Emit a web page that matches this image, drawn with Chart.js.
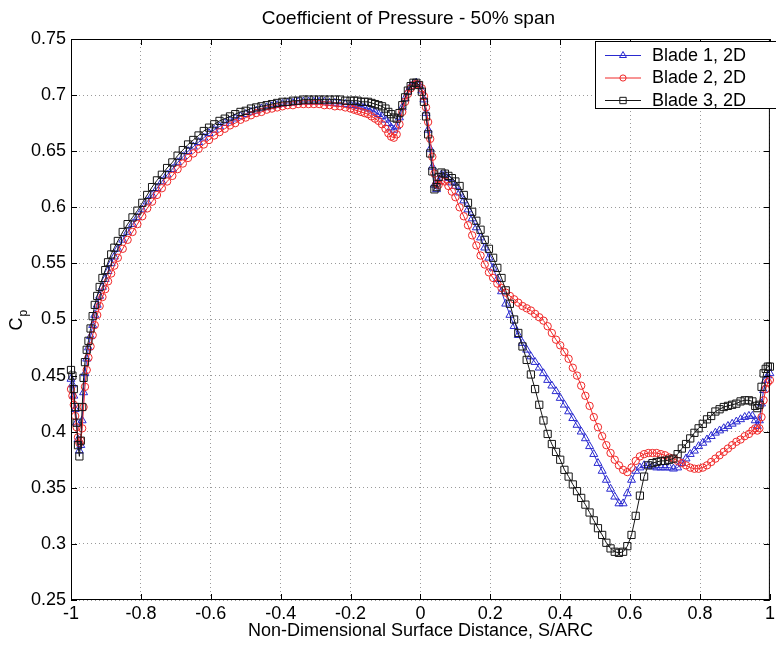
<!DOCTYPE html>
<html>
<head>
<meta charset="utf-8">
<title>Coefficient of Pressure - 50% span</title>
<script src="https://cdn.jsdelivr.net/npm/chart.js@4.4.1/dist/chart.umd.min.js"></script>
<style>
  html, body { margin: 0; padding: 0; background: #fff; }
</style>
</head>
<body>
<canvas id="cpChart" width="776" height="649"></canvas>
<script>
// surface stations, S/ARC (shared by all three blades)
const surfaceDist = [
  -1, -0.996, -0.992, -0.988, -0.984, -0.98, -0.976, -0.972, -0.968, -0.964,
  -0.96, -0.955, -0.95, -0.944, -0.938, -0.932, -0.925, -0.918, -0.91, -0.902,
  -0.894, -0.885, -0.876, -0.866, -0.852, -0.838, -0.824, -0.81, -0.796, -0.782,
  -0.768, -0.754, -0.74, -0.725, -0.71, -0.695, -0.68, -0.665, -0.65, -0.635,
  -0.62, -0.605, -0.59, -0.575, -0.56, -0.545, -0.53, -0.515, -0.5, -0.485,
  -0.47, -0.455, -0.44, -0.425, -0.41, -0.395, -0.38, -0.365, -0.35, -0.335,
  -0.32, -0.305, -0.29, -0.275, -0.26, -0.245, -0.23, -0.215, -0.2, -0.19,
  -0.18, -0.17, -0.16, -0.15, -0.14, -0.13, -0.12, -0.11, -0.1, -0.092,
  -0.084, -0.076, -0.068, -0.06, -0.052, -0.044, -0.036, -0.028, -0.02, -0.012,
  -0.004, 0.004, 0.01, 0.016, 0.022, 0.028, 0.034, 0.04, 0.046, 0.052,
  0.06, 0.07, 0.08, 0.09, 0.1, 0.112, 0.124, 0.136, 0.148, 0.16,
  0.172, 0.184, 0.196, 0.208, 0.22, 0.232, 0.244, 0.256, 0.268, 0.28,
  0.292, 0.304, 0.316, 0.328, 0.34, 0.352, 0.364, 0.376, 0.388, 0.4,
  0.412, 0.424, 0.436, 0.448, 0.46, 0.472, 0.484, 0.496, 0.508, 0.52,
  0.532, 0.544, 0.556, 0.568, 0.58, 0.592, 0.604, 0.616, 0.628, 0.64,
  0.652, 0.664, 0.676, 0.688, 0.7, 0.712, 0.724, 0.736, 0.748, 0.76,
  0.772, 0.784, 0.796, 0.808, 0.82, 0.832, 0.844, 0.856, 0.868, 0.88,
  0.892, 0.904, 0.916, 0.928, 0.94, 0.95, 0.958, 0.964, 0.97, 0.976,
  0.982, 0.988, 0.994, 1
];

const blade1Cp = [
  0.447, 0.442, 0.432, 0.420, 0.408, 0.393, 0.383, 0.388, 0.410, 0.435,
  0.452, 0.465, 0.475, 0.485, 0.495, 0.504, 0.513, 0.521, 0.529, 0.536,
  0.543, 0.550, 0.556, 0.563, 0.571, 0.578, 0.585, 0.591, 0.598, 0.605,
  0.611, 0.617, 0.623, 0.629, 0.634, 0.640, 0.645, 0.650, 0.654, 0.658,
  0.662, 0.666, 0.669, 0.672, 0.675, 0.677, 0.679, 0.681, 0.683, 0.685,
  0.686, 0.688, 0.689, 0.690, 0.691, 0.692, 0.693, 0.693, 0.694, 0.694,
  0.694, 0.694, 0.694, 0.694, 0.693, 0.693, 0.692, 0.692, 0.691, 0.691,
  0.690, 0.690, 0.689, 0.688, 0.687, 0.685, 0.683, 0.681, 0.678, 0.675,
  0.671, 0.669, 0.672, 0.680, 0.689, 0.697, 0.703, 0.708, 0.710, 0.711,
  0.709, 0.704, 0.696, 0.684, 0.669, 0.652, 0.636, 0.620, 0.616, 0.623,
  0.629, 0.629, 0.626, 0.622, 0.619, 0.613, 0.606, 0.598, 0.590, 0.582,
  0.573, 0.564, 0.555, 0.546, 0.536, 0.525, 0.514, 0.504, 0.494, 0.486,
  0.479, 0.473, 0.467, 0.462, 0.457, 0.452, 0.446, 0.441, 0.436, 0.430,
  0.424, 0.418, 0.412, 0.406, 0.400, 0.394, 0.387, 0.380, 0.372, 0.365,
  0.357, 0.349, 0.342, 0.336, 0.336, 0.345, 0.357, 0.365, 0.368, 0.370,
  0.370, 0.369, 0.368, 0.368, 0.368, 0.368, 0.367, 0.368, 0.372, 0.376,
  0.380, 0.383, 0.387, 0.390, 0.393, 0.396, 0.399, 0.401, 0.403, 0.405,
  0.407, 0.409, 0.411, 0.413, 0.414, 0.414, 0.410, 0.405, 0.410, 0.425,
  0.437, 0.446, 0.450, 0.452
];

const blade2Cp = [
  0.438, 0.432, 0.424, 0.414, 0.404, 0.395, 0.390, 0.392, 0.403, 0.422,
  0.440, 0.455, 0.466, 0.476, 0.486, 0.495, 0.504, 0.512, 0.520, 0.527,
  0.534, 0.541, 0.548, 0.555, 0.563, 0.571, 0.578, 0.585, 0.592, 0.599,
  0.605, 0.611, 0.617, 0.623, 0.628, 0.634, 0.639, 0.644, 0.648, 0.652,
  0.656, 0.660, 0.664, 0.667, 0.670, 0.673, 0.675, 0.678, 0.680, 0.682,
  0.684, 0.685, 0.687, 0.688, 0.689, 0.690, 0.691, 0.691, 0.692, 0.692,
  0.692, 0.692, 0.692, 0.691, 0.691, 0.690, 0.690, 0.689, 0.688, 0.687,
  0.686, 0.685, 0.684, 0.683, 0.681, 0.679, 0.677, 0.674, 0.670, 0.666,
  0.663, 0.662, 0.665, 0.674, 0.685, 0.694, 0.701, 0.706, 0.709, 0.710,
  0.709, 0.706, 0.699, 0.689, 0.676, 0.661, 0.645, 0.630, 0.621, 0.620,
  0.624, 0.623, 0.619, 0.614, 0.609, 0.600, 0.592, 0.584, 0.575, 0.566,
  0.557, 0.549, 0.542, 0.537, 0.532, 0.528, 0.524, 0.521, 0.518, 0.515,
  0.512, 0.510, 0.508, 0.505, 0.502, 0.499, 0.494, 0.488, 0.482, 0.477,
  0.471, 0.465, 0.457, 0.450, 0.441, 0.432, 0.423, 0.413, 0.404, 0.396,
  0.388, 0.381, 0.375, 0.370, 0.366, 0.364, 0.368, 0.374, 0.378, 0.380,
  0.381, 0.381, 0.381, 0.380, 0.379, 0.377, 0.376, 0.374, 0.372, 0.370,
  0.368, 0.367, 0.367, 0.368, 0.370, 0.373, 0.376, 0.379, 0.382, 0.385,
  0.388, 0.391, 0.393, 0.396, 0.398, 0.401, 0.403, 0.401, 0.403, 0.413,
  0.428, 0.438, 0.444, 0.446
];

const blade3Cp = [
  0.455, 0.450, 0.438, 0.422, 0.408, 0.388, 0.378, 0.392, 0.422, 0.448,
  0.462, 0.473, 0.481, 0.492, 0.503, 0.513, 0.521, 0.529, 0.537, 0.544,
  0.551, 0.558, 0.564, 0.570, 0.578, 0.585, 0.591, 0.597, 0.604, 0.611,
  0.618, 0.624, 0.629, 0.635, 0.640, 0.646, 0.651, 0.656, 0.660, 0.664,
  0.668, 0.671, 0.674, 0.677, 0.679, 0.681, 0.683, 0.685, 0.686, 0.688,
  0.689, 0.690, 0.691, 0.692, 0.693, 0.694, 0.694, 0.695, 0.695, 0.696,
  0.696, 0.696, 0.696, 0.696, 0.696, 0.696, 0.696, 0.695, 0.695, 0.695,
  0.695, 0.694, 0.694, 0.694, 0.693, 0.692, 0.691, 0.690, 0.688, 0.685,
  0.683, 0.680, 0.679, 0.684, 0.691, 0.698, 0.704, 0.708, 0.711, 0.711,
  0.709, 0.703, 0.694, 0.681, 0.665, 0.648, 0.632, 0.616, 0.618, 0.627,
  0.631, 0.630, 0.628, 0.626, 0.623, 0.619, 0.611, 0.604, 0.596, 0.588,
  0.580, 0.571, 0.563, 0.555, 0.546, 0.537, 0.526, 0.514, 0.500, 0.488,
  0.476, 0.464, 0.451, 0.438, 0.424, 0.410, 0.398, 0.389, 0.382, 0.375,
  0.366, 0.360, 0.353, 0.347, 0.341, 0.335, 0.328, 0.321, 0.314, 0.308,
  0.301, 0.296, 0.293, 0.292, 0.293, 0.298, 0.308, 0.325, 0.343, 0.360,
  0.370, 0.372, 0.373, 0.374, 0.374, 0.375, 0.376, 0.380, 0.385, 0.389,
  0.394, 0.399, 0.403, 0.407, 0.411, 0.414, 0.418, 0.420, 0.422, 0.423,
  0.424, 0.425, 0.427, 0.428, 0.428, 0.427, 0.423, 0.421, 0.424, 0.440,
  0.452, 0.456, 0.458, 0.458
];

const seriesNames = ["Blade 1, 2D", "Blade 2, 2D", "Blade 3, 2D"];
const xTickValues = [-1, -0.8, -0.6, -0.4, -0.2, 0, 0.2, 0.4, 0.6, 0.8, 1];
const yTickValues = [0.25, 0.3, 0.35, 0.4, 0.45, 0.5, 0.55, 0.6, 0.65, 0.7, 0.75];

const FONT = "'Liberation Sans', Arial, Helvetica, sans-serif";
const BLUE = "#2a2ad0";
const RED = "#f02828";
const BLACK = "#161616";

const styles = [
  { color: BLUE, pointStyle: "triangle", radius: 4.6 },
  { color: RED, pointStyle: "circle", radius: 3.7 },
  { color: BLACK, pointStyle: "rect", radius: 5.1 },
];

const toPoints = (ys) => surfaceDist.map((s, i) => ({ x: s, y: ys[i] }));

function makeDataset(idx, ys, order) {
  const st = styles[idx];
  return {
    label: seriesNames[idx],
    data: toPoints(ys),
    showLine: true,
    borderColor: st.color,
    borderWidth: 1,
    pointStyle: st.pointStyle,
    pointRadius: st.radius,
    pointBorderColor: st.color,
    pointBackgroundColor: "rgba(0,0,0,0)",
    pointBorderWidth: 1,
    order: order,
    clip: false,
  };
}

// legend sample: short line with the marker in the middle
function drawMarker(ctx, st, x, y) {
  ctx.save();
  ctx.strokeStyle = st.color;
  ctx.fillStyle = "rgba(0,0,0,0)";
  ctx.lineWidth = 1;
  Chart.helpers.drawPoint(ctx, { pointStyle: st.pointStyle, radius: st.radius - 0.6, rotation: 0, borderWidth: 1 }, x, y);
  ctx.restore();
}

// MATLAB-style box, inward ticks, title, C_p label and legend
const figureFrame = {
  id: "figureFrame",
  afterDraw(c) {
    const { ctx, chartArea: a, scales } = c;
    ctx.save();
    ctx.strokeStyle = "#000";
    ctx.lineWidth = 1;
    ctx.strokeRect(a.left + 0.5, a.top + 0.5, a.right - a.left - 1, a.bottom - a.top - 1);

    const tl = 6;
    ctx.beginPath();
    xTickValues.forEach((v) => {
      const px = Math.round(scales.x.getPixelForValue(v)) + 0.5;
      ctx.moveTo(px, a.bottom); ctx.lineTo(px, a.bottom - tl);
      ctx.moveTo(px, a.top); ctx.lineTo(px, a.top + tl);
    });
    yTickValues.forEach((v) => {
      const py = Math.round(scales.y.getPixelForValue(v)) + 0.5;
      ctx.moveTo(a.left, py); ctx.lineTo(a.left + tl, py);
      ctx.moveTo(a.right, py); ctx.lineTo(a.right - tl, py);
    });
    ctx.stroke();

    // title
    ctx.fillStyle = "#000";
    ctx.font = "19px " + FONT;
    ctx.textAlign = "center";
    ctx.textBaseline = "middle";
    ctx.fillText("Coefficient of Pressure - 50% span", (a.left + a.right) / 2 - 12, 19);

    // y label: C with subscript p
    ctx.save();
    ctx.translate(17, (a.top + a.bottom) / 2 + 1);
    ctx.rotate(-Math.PI / 2);
    ctx.font = "18px " + FONT;
    const wC = ctx.measureText("C").width;
    ctx.textAlign = "left";
    ctx.fillText("C", -(wC + 7) / 2, 0);
    ctx.font = "12px " + FONT;
    ctx.fillText("p", -(wC + 7) / 2 + wC + 1, 7);
    ctx.restore();

    // legend
    const box = { left: 595.5, top: 41.5, right: 790, bottom: 108.5 };
    ctx.fillStyle = "#fff";
    ctx.fillRect(box.left, box.top, box.right - box.left, box.bottom - box.top);
    ctx.strokeStyle = "#000";
    ctx.strokeRect(box.left, box.top, box.right - box.left, box.bottom - box.top);
    const rows = [55, 77.5, 100];
    seriesNames.forEach((name, i) => {
      const st = styles[i];
      const y = rows[i];
      ctx.strokeStyle = st.color;
      ctx.lineWidth = 1;
      ctx.beginPath();
      ctx.moveTo(605, y + 0.5);
      ctx.lineTo(641, y + 0.5);
      ctx.stroke();
      drawMarker(ctx, st, 623, y + 0.5);
      ctx.fillStyle = "#000";
      ctx.font = "18px " + FONT;
      ctx.textAlign = "left";
      ctx.textBaseline = "middle";
      ctx.fillText(name, 652, y + 1);
    });
    ctx.restore();
  },
};

const tickFont = { family: FONT, size: 18 };
const gridStyle = { color: "#9a9a9a", lineWidth: 1, drawTicks: false };

new Chart(document.getElementById("cpChart"), {
  type: "scatter",
  data: {
    datasets: [
      makeDataset(0, blade1Cp, 2),
      makeDataset(1, blade2Cp, 1),
      makeDataset(2, blade3Cp, 0),
    ],
  },
  options: {
    responsive: false,
    animation: false,
    devicePixelRatio: 1,
    events: [],
    layout: { padding: { top: 39, right: 2, bottom: 3, left: 0 } },
    plugins: {
      legend: { display: false },
      tooltip: { enabled: false },
      title: { display: false },
    },
    scales: {
      x: {
        type: "linear",
        min: -1,
        max: 1,
        afterBuildTicks: (s) => { s.ticks = xTickValues.map((v) => ({ value: v })); },
        afterFit: (s) => { s.height = 46; s.paddingLeft = 0; s.paddingRight = 0; },
        ticks: {
          autoSkip: false,
          maxRotation: 0,
          padding: 3,
          color: "#000",
          font: tickFont,
          callback: (v) => String(v),
        },
        grid: gridStyle,
        border: { display: false, dash: [1, 3] },
        title: {
          display: true,
          text: "Non-Dimensional Surface Distance, S/ARC",
          color: "#000",
          font: tickFont,
          padding: { top: 0, bottom: 4 },
        },
      },
      y: {
        type: "linear",
        min: 0.25,
        max: 0.75,
        afterBuildTicks: (s) => { s.ticks = yTickValues.map((v) => ({ value: v })); },
        afterFit: (s) => { s.width = 71; s.paddingTop = 0; s.paddingBottom = 0; },
        ticks: {
          autoSkip: false,
          padding: 5,
          color: "#000",
          font: tickFont,
          callback: (v) => String(+v.toFixed(2)),
        },
        grid: gridStyle,
        border: { display: false, dash: [1, 3] },
      },
    },
  },
  plugins: [figureFrame],
});
</script>
</body>
</html>
